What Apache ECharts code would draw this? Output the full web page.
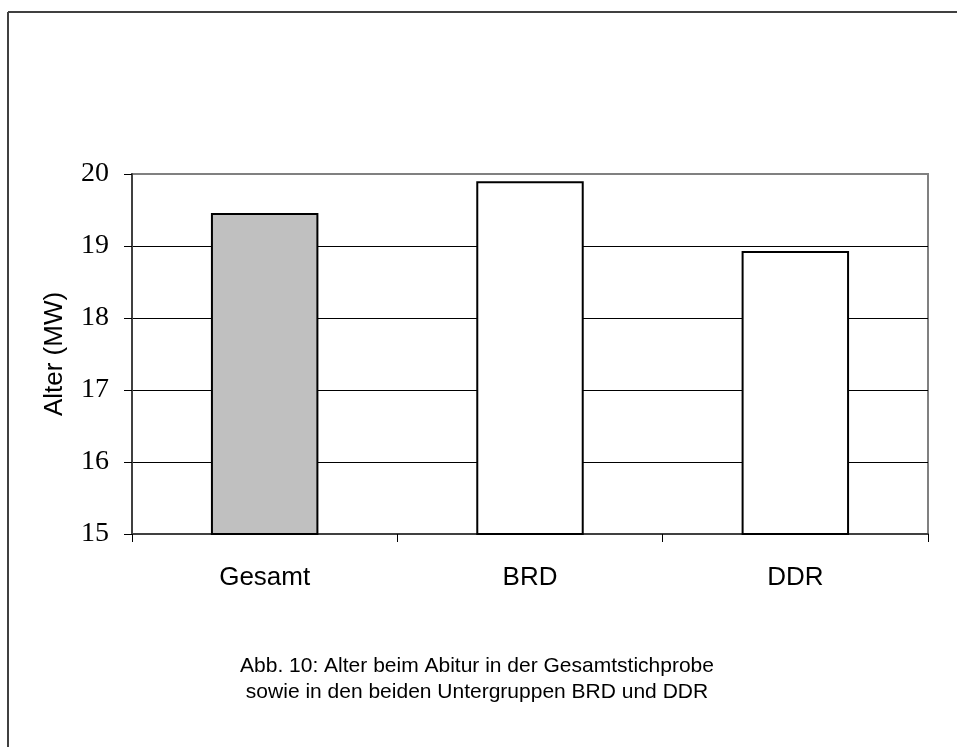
<!DOCTYPE html>
<html>
<head>
<meta charset="utf-8">
<script src="https://cdn.jsdelivr.net/npm/echarts@6/dist/echarts.min.js"></script>
<style>
  html, body { margin: 0; padding: 0; background: #fff; }
  #chart { width: 957px; height: 747px; }
</style>
</head>
<body>
<div id="chart"></div>
<script>
// Groups and their mean age at Abitur
const categories = ['Gesamt', 'BRD', 'DDR'];
const meanAge = [19.46, 19.9, 18.93];
const yTicks = [15, 16, 17, 18, 19, 20];
const caption = 'Abb. 10: Alter beim Abitur in der Gesamtstichprobe\nsowie in den beiden Untergruppen BRD und DDR';

const sans = '"Liberation Sans", Arial, sans-serif';
const serif = '"Liberation Serif", "Times New Roman", serif';

const chart = echarts.init(document.getElementById('chart'), null, { renderer: 'canvas' });

chart.setOption({
  animation: false,
  backgroundColor: '#fff',
  grid: {
    left: 132,
    right: 29,
    top: 174,
    bottom: 213,
    show: true,
    borderColor: '#808080',
    borderWidth: 2,
    backgroundColor: '#fff'
  },
  xAxis: {
    type: 'category',
    data: categories,
    axisLine: { lineStyle: { color: '#404040', width: 2 } },
    axisTick: { show: true, length: 8, inside: false, lineStyle: { color: '#000', width: 1 } },
    axisLabel: { fontFamily: sans, fontSize: 26, color: '#000', margin: 31 },
    splitLine: { show: false }
  },
  yAxis: {
    type: 'value',
    min: yTicks[0],
    max: yTicks[yTicks.length - 1],
    interval: 1,
    name: 'Alter (MW)',
    nameLocation: 'middle',
    nameGap: 64,
    nameTextStyle: { fontFamily: sans, fontSize: 26, color: '#000' },
    axisLine: { show: true, lineStyle: { color: '#404040', width: 2 } },
    axisTick: { show: true, length: 8, lineStyle: { color: '#000', width: 1 } },
    axisLabel: { fontFamily: serif, fontSize: 28, color: '#000', margin: 23 },
    splitLine: {
      show: true,
      lineStyle: { color: ['#000', '#000', '#000', '#000', '#000', '#808080'], width: 1 }
    }
  },
  graphic: [
    // outer frame: top and left edges
    { type: 'line', shape: { x1: 8, y1: 12, x2: 957, y2: 12 }, style: { stroke: '#404040', lineWidth: 2 }, z: 100 },
    { type: 'line', shape: { x1: 8, y1: 12, x2: 8, y2: 747 }, style: { stroke: '#404040', lineWidth: 2 }, z: 100 },
    // figure caption
    {
      type: 'text',
      x: 477,
      y: 653,
      style: {
        text: caption,
        fill: '#000',
        font: '21px ' + sans,
        align: 'center',
        verticalAlign: 'top',
        lineHeight: 26
      },
      z: 100
    }
  ],
  series: [{
    type: 'bar',
    data: meanAge,
    barWidth: '40.5%',
    itemStyle: {
      color: p => (p.dataIndex === 0 ? '#c0c0c0' : '#ffffff'),
      borderColor: '#000',
      borderWidth: 2
    }
  }]
});
</script>
</body>
</html>
